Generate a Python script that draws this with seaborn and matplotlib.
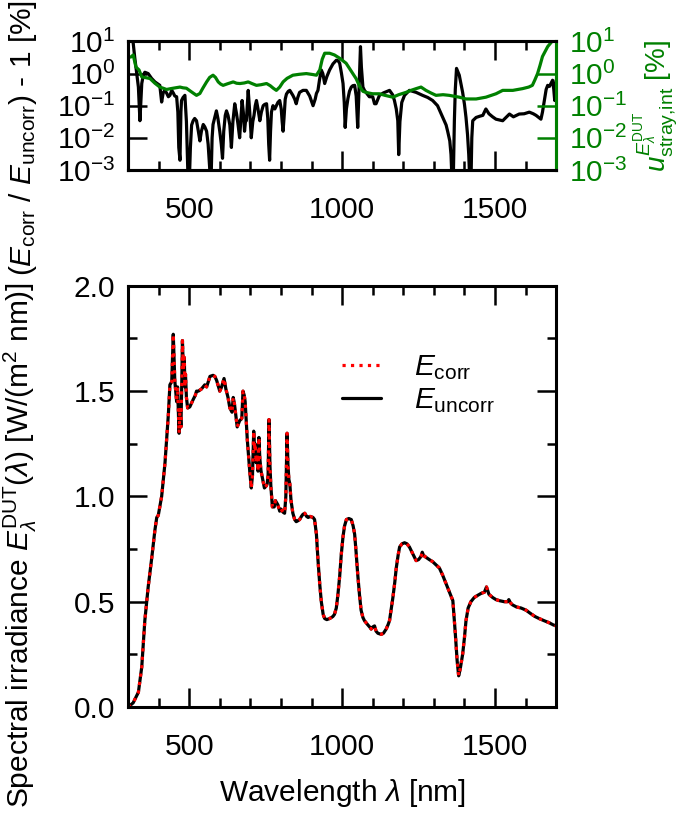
import matplotlib
matplotlib.use("Agg")
import matplotlib.pyplot as plt
import matplotlib.ticker as ticker
import seaborn as sns

# Spectral irradiance (bottom panel), W/(m^2 nm)
WL_SPEC = [301, 317, 334, 345, 355, 366, 377, 388, 394, 399, 410, 421, 432, 437, 443, 448,
           453, 459, 462, 465, 467, 470, 473, 476, 478, 481, 484, 486, 488, 491, 495, 502,
           513, 520, 524, 530, 540, 548, 551, 557, 568, 578, 584, 590, 600, 606, 614, 620,
           627, 633, 640, 644, 648, 652, 657, 665, 672, 676, 680, 683, 690, 698, 703, 707,
           711, 714, 716, 719, 722, 725, 728, 731, 735, 739, 746, 752, 755, 758, 761, 764,
           767, 772, 778, 782, 786, 790, 796, 800, 807, 812, 816, 820, 823, 826, 829, 833,
           839, 845, 850, 856, 861, 867, 872, 878, 884, 889, 895, 905, 910, 916, 921, 927,
           932, 938, 943, 950, 959, 965, 970, 975, 981, 986, 992, 997, 1003, 1008, 1014, 1022,
           1030, 1036, 1041, 1046, 1051, 1057, 1062, 1068, 1073, 1084, 1090, 1095, 1100, 1106,
           1111, 1117, 1128, 1135, 1144, 1150, 1155, 1160, 1166, 1172, 1177, 1183, 1188, 1196,
           1204, 1212, 1220, 1230, 1242, 1250, 1258, 1262, 1266, 1275, 1285, 1296, 1307, 1318,
           1329, 1340, 1351, 1362, 1366, 1370, 1376, 1381, 1386, 1394, 1400, 1405, 1412, 1421,
           1432, 1443, 1455, 1465, 1472, 1480, 1492, 1503, 1514, 1530, 1541, 1545, 1550, 1557,
           1570, 1585, 1601, 1615, 1630, 1644, 1660, 1677, 1690, 1700]
E_UNCORR = [0.0, 0.02, 0.07, 0.19, 0.41, 0.57, 0.70, 0.84, 0.90, 0.91, 1.00, 1.16, 1.39, 1.53, 1.545, 1.77,
            1.55, 1.45, 1.52, 1.38, 1.30, 1.42, 1.33, 1.55, 1.74, 1.60, 1.66, 1.52, 1.58, 1.47, 1.42, 1.425,
            1.46, 1.48, 1.50, 1.50, 1.51, 1.525, 1.53, 1.52, 1.57, 1.575, 1.57, 1.55, 1.50, 1.52, 1.56, 1.51,
            1.47, 1.42, 1.40, 1.47, 1.44, 1.39, 1.33, 1.36, 1.37, 1.50, 1.48, 1.45, 1.27, 1.12, 1.04, 1.10,
            1.31, 1.22, 1.25, 1.16, 1.20, 1.12, 1.28, 1.18, 1.12, 1.09, 1.04, 1.05, 1.06, 1.10, 1.365, 1.15,
            1.05, 0.95, 0.95, 0.98, 0.97, 0.96, 0.93, 0.94, 0.925, 0.92, 1.00, 1.30, 1.15, 1.08, 1.06, 0.98,
            0.92, 0.89, 0.88, 0.885, 0.89, 0.905, 0.915, 0.92, 0.905, 0.90, 0.905, 0.90, 0.89, 0.82, 0.70, 0.58,
            0.50, 0.44, 0.42, 0.415, 0.42, 0.425, 0.43, 0.44, 0.47, 0.53, 0.62, 0.72, 0.81, 0.86, 0.89, 0.895,
            0.89, 0.86, 0.82, 0.73, 0.63, 0.53, 0.46, 0.425, 0.41, 0.39, 0.38, 0.37, 0.38, 0.385,
            0.36, 0.35, 0.345, 0.35, 0.37, 0.39, 0.41, 0.46, 0.52, 0.59, 0.66, 0.72, 0.76, 0.775,
            0.78, 0.775, 0.76, 0.73, 0.695, 0.70, 0.715, 0.735, 0.72, 0.71, 0.70, 0.69, 0.675, 0.66,
            0.625, 0.585, 0.545, 0.505, 0.43, 0.35, 0.22, 0.148, 0.18, 0.25, 0.33, 0.41, 0.47, 0.50,
            0.52, 0.53, 0.54, 0.545, 0.57, 0.535, 0.52, 0.51, 0.505, 0.50, 0.50, 0.51, 0.495, 0.485,
            0.475, 0.47, 0.46, 0.445, 0.43, 0.42, 0.41, 0.40, 0.39, 0.385]
# corrected spectrum is indistinguishable from the uncorrected one at this scale
E_CORR = list(E_UNCORR)

# Relative difference (E_corr / E_uncorr) - 1, in %
WL_RATIO = [305, 317, 322, 326, 330, 334, 339, 345, 350, 355, 360, 366, 377, 388, 398, 404,
            410, 415, 420, 426, 432, 437, 443, 448, 453, 459, 463, 466, 470, 473, 475, 480,
            486, 491, 494, 497, 500, 504, 508, 513, 518, 524, 530, 535, 540, 546, 551, 557,
            562, 566, 571, 575, 578, 583, 589, 594, 600, 605, 609, 613, 618, 622, 627, 633,
            638, 643, 649, 655, 660, 665, 669, 673, 677, 681, 684, 687, 690, 693, 698, 703,
            708, 712, 716, 720, 725, 731, 736, 742, 747, 753, 757, 760, 763, 766, 769, 774,
            780, 785, 790, 796, 801, 804, 807, 810, 814, 818, 824, 829, 834, 839, 845, 850,
            855, 861, 872, 883, 894, 905, 912, 916, 921, 926, 932, 937, 943, 950, 959, 970,
            981, 987, 992, 998, 1003, 1007, 1010, 1014, 1019, 1024, 1030, 1035, 1041, 1046, 1051, 1055,
            1058, 1060, 1063, 1068, 1073, 1078, 1089, 1100, 1106, 1111, 1117, 1122, 1135, 1155, 1165, 1171,
            1177, 1182, 1185, 1189, 1195, 1204, 1220, 1242, 1263, 1280, 1296, 1312, 1329, 1340, 1345, 1352,
            1356, 1360, 1363, 1367, 1370, 1374, 1383, 1394, 1400, 1405, 1410, 1414, 1418, 1421, 1424, 1427,
            1438, 1450, 1460, 1470, 1480, 1492, 1503, 1525, 1547, 1560, 1579, 1595, 1612, 1625, 1634, 1650,
            1655, 1661, 1667, 1672, 1678, 1683, 1688, 1692, 1695, 1700]
RATIO_PCT = [30, 8.9, 3.2, 1.6, 0.8, 0.38, 0.034, 0.49, 0.89, 1.1, 1.05, 1.0, 0.71, 0.55, 0.47, 0.43,
             0.13, 0.25, 0.30, 0.25, 0.19, 0.21, 0.30, 0.25, 0.2, 0.19, 0.063, 0.005, 0.002, 0.063, 0.145, 0.18,
             0.21, 0.032, 0.0032, 0.0003, 0.0003, 0.005, 0.025, 0.034, 0.04, 0.034, 0.016, 0.008, 0.016, 0.026, 0.022, 0.016,
             0.0063, 0.0016, 0.0003, 0.01, 0.026, 0.04, 0.069, 0.04, 0.016, 0.0063, 0.0023, 0.016, 0.05, 0.069, 0.05, 0.025,
             0.005, 0.032, 0.115, 0.055, 0.025, 0.01, 0.04, 0.145, 0.063, 0.016, 0.032, 0.034, 0.1, 0.30, 0.063, 0.01,
             0.032, 0.05, 0.1, 0.145, 0.079, 0.034, 0.063, 0.1, 0.11, 0.115, 0.04, 0.0063, 0.002, 0.016, 0.063, 0.1,
             0.079, 0.1, 0.126, 0.145, 0.079, 0.032, 0.016, 0.04, 0.16, 0.23, 0.28, 0.30, 0.25, 0.21, 0.16, 0.115,
             0.18, 0.26, 0.30, 0.30, 0.2, 0.1, 0.16, 0.24, 0.30, 0.63, 1.29, 1.0, 0.49, 0.8, 1.29, 2.0,
             2.6, 2.5, 2.1, 1.0, 0.49, 0.126, 0.021, 0.079, 0.166, 0.28, 0.38, 0.42, 0.43, 0.2, 0.021, 0.25,
             2.0, 6.9, 1.6, 0.38, 0.30, 0.26, 0.19, 0.19, 0.115, 0.115, 0.16, 0.21, 0.25, 0.30, 0.22, 0.145,
             0.079, 0.034, 0.003, 0.032, 0.126, 0.21, 0.30, 0.26, 0.21, 0.18, 0.145, 0.1, 0.043, 0.025, 0.016, 0.008,
             0.003, 0.0003, 0.0003, 0.034, 0.32, 1.45, 0.89, 0.26, 0.11, 0.043, 0.0126, 0.003, 0.0003, 0.0003, 0.01, 0.034,
             0.043, 0.047, 0.05, 0.079, 0.056, 0.045, 0.038, 0.034, 0.055, 0.045, 0.055, 0.056, 0.063, 0.056, 0.05, 0.038,
             0.063, 0.145, 0.32, 0.43, 0.4, 0.5, 0.62, 0.32, 0.145, 0.63]

# Integrated stray-light uncertainty, in %
WL_USTRAY = [300, 310, 317, 326, 336, 345, 360, 372, 388, 404, 415, 426, 440, 455, 470, 480,
             491, 505, 515, 524, 535, 545, 557, 567, 578, 586, 595, 603, 611, 625, 644, 655,
             666, 680, 693, 705, 720, 735, 753, 765, 775, 785, 796, 807, 820, 839, 860, 883,
             905, 916, 927, 935, 943, 959, 975, 992, 1013, 1024, 1035, 1046, 1057, 1068, 1078, 1090,
             1100, 1122, 1140, 1166, 1185, 1209, 1225, 1242, 1258, 1274, 1290, 1307, 1330, 1350, 1383, 1405,
             1438, 1470, 1503, 1525, 1558, 1590, 1610, 1622, 1630, 1639, 1647, 1655, 1672, 1686, 1700]
USTRAY_PCT = [3.2, 3.3, 3.8, 1.6, 1.3, 0.79, 0.74, 0.70, 0.50, 0.38, 0.35, 0.32, 0.34, 0.36, 0.38, 0.36,
              0.35, 0.28, 0.24, 0.21, 0.24, 0.355, 0.55, 0.76, 0.89, 0.76, 0.55, 0.47, 0.43, 0.48, 0.55, 0.50,
              0.49, 0.51, 0.55, 0.49, 0.43, 0.45, 0.49, 0.42, 0.35, 0.30, 0.38, 0.55, 0.71, 0.89, 0.95, 1.0,
              0.93, 0.89, 1.3, 2.8, 4.3, 4.3, 3.8, 3.0, 2.1, 1.45, 1.0, 0.69, 0.40, 0.28, 0.26, 0.245,
              0.235, 0.235, 0.21, 0.184, 0.22, 0.26, 0.30, 0.34, 0.38, 0.30, 0.25, 0.21, 0.22, 0.21, 0.184, 0.162,
              0.162, 0.184, 0.235, 0.30, 0.30, 0.34, 0.38, 0.43, 0.63, 1.0, 1.8, 3.4, 6.9, 10, 12.6]

GREEN = "#008000"

sns.set_theme(style="ticks", rc={"axes.edgecolor": "black", "text.color": "black",
                                 "xtick.color": "black", "ytick.color": "black",
                                 "axes.labelcolor": "black"})
plt.rcParams["font.family"] = ["Liberation Sans", "DejaVu Sans"]
plt.rcParams["mathtext.fontset"] = "custom"
plt.rcParams["mathtext.rm"] = "Liberation Sans"
plt.rcParams["mathtext.it"] = "Liberation Sans:italic"
plt.rcParams["mathtext.bf"] = "Liberation Sans:bold"

FS = 21.5
LW = 2.3

fig = plt.figure(figsize=(6.83, 8.13), dpi=100)
ax_top = fig.add_axes([0.1874, 0.791, 0.627, 0.158])
ax = fig.add_axes([0.1874, 0.1304, 0.627, 0.518])

# --- bottom panel: spectra
sns.lineplot(x=WL_SPEC, y=E_UNCORR, ax=ax, color="black", lw=LW, label=r"$E_{\rm uncorr}$")
sns.lineplot(x=WL_SPEC, y=E_CORR, ax=ax, color="red", lw=LW, linestyle=":",
             label=r"$E_{\rm corr}$")
ax.set_xlim(300, 1700)
ax.set_ylim(0, 2.0)
ax.xaxis.set_major_locator(ticker.MultipleLocator(500))
ax.xaxis.set_minor_locator(ticker.MultipleLocator(100))
ax.yaxis.set_major_locator(ticker.MultipleLocator(0.5))
ax.yaxis.set_minor_locator(ticker.MultipleLocator(0.25))
ax.yaxis.set_major_formatter(ticker.FormatStrFormatter("%.1f"))
ax.tick_params(which="both", direction="in", top=True, right=True, width=1.8, colors="black")
ax.tick_params(which="major", length=13.5)
ax.tick_params(which="minor", length=6.5)
ax.tick_params(axis="x", pad=19, labelsize=FS)
ax.tick_params(axis="y", pad=9, labelsize=FS)
ax.set_xlabel(r"Wavelength $\lambda$ [nm]", fontsize=FS, labelpad=11)
ax.set_ylabel(r"Spectral irradiance $E_\lambda^{\rm DUT}(\lambda)$ [W/(m$^2$ nm)]", fontsize=FS)
ax.yaxis.set_label_coords(-0.207, 0.385)
h, l = ax.get_legend_handles_labels()
ax.legend(h[::-1], l[::-1], loc="upper left", bbox_to_anchor=(0.50, 0.84), frameon=False,
          fontsize=FS, handlelength=1.3, handletextpad=1.1, labelspacing=0.15,
          borderpad=0, borderaxespad=0)

# --- top panel: relative difference and stray-light uncertainty
sns.lineplot(x=WL_RATIO, y=RATIO_PCT, ax=ax_top, color="black", lw=LW)
ax_top.set_yscale("log")
ax_top.set_xlim(300, 1700)
ax_top.set_ylim(1e-3, 1e1)
ax_top.xaxis.set_major_locator(ticker.MultipleLocator(500))
ax_top.xaxis.set_minor_locator(ticker.MultipleLocator(100))
ax_top.yaxis.set_major_locator(ticker.LogLocator(base=10, numticks=10))
ax_top.yaxis.set_minor_locator(ticker.NullLocator())
ax_top.tick_params(which="both", direction="in", top=True, right=False, width=1.8, colors="black")
ax_top.tick_params(which="major", length=13.5)
ax_top.tick_params(which="minor", length=6.5)
ax_top.tick_params(axis="x", pad=19, labelsize=FS)
ax_top.tick_params(axis="y", pad=9, labelsize=FS)
ax_top.set_xlabel("")
ax_top.set_ylabel(r"($E_{\rm corr}$ / $E_{\rm uncorr}$) - 1 [%]", fontsize=FS)
ax_top.yaxis.set_label_coords(-0.207, 0.25)

ax2 = ax_top.twinx()
sns.lineplot(x=WL_USTRAY, y=USTRAY_PCT, ax=ax2, color=GREEN, lw=LW)
ax2.set_yscale("log")
ax2.set_ylim(1e-3, 1e1)
ax2.yaxis.set_major_locator(ticker.LogLocator(base=10, numticks=10))
ax2.yaxis.set_minor_locator(ticker.NullLocator())
ax2.tick_params(axis="y", which="both", direction="in", length=13.5, width=1.8,
                colors=GREEN, labelsize=FS, pad=9)
ax2.set_ylabel(r"$u_{\rm stray{,}int}^{E_\lambda^{\rm DUT}}$ [%]", fontsize=20, color=GREEN)
ax2.yaxis.set_label_coords(1.175, 0.5)

for a in (ax, ax_top, ax2):
    for s in a.spines.values():
        s.set_linewidth(2.2)
        s.set_color("black")
ax2.spines["right"].set_color(GREEN)

fig.savefig("out.png", dpi=100)
